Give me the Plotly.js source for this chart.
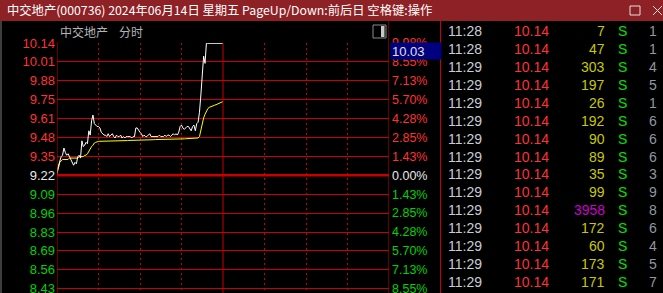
<!DOCTYPE html>
<html><head><meta charset="utf-8">
<script src="https://cdn.plot.ly/plotly-3.0.1.min.js"></script>
<style>html,body{margin:0;padding:0;background:#000;overflow:hidden;}#chart{width:663px;height:293px;}</style>
</head><body><div id="chart"></div>
<script>
// ---------- data ----------
const stockName = "中交地产";
const titleText = "中交地产(000736) 2024年06月14日 星期五 PageUp/Down:前后日 空格键:操作";
const preClose = 9.22;
const limitUp = 10.142;
const cursorPrice = "10.03";
const leftLabels = ["10.14","10.01","9.88","9.75","9.61","9.48","9.35","9.22","9.09","8.96","8.83","8.69","8.56","8.43"];
const rightLabels = ["9.98%","8.55%","7.13%","5.70%","4.28%","2.85%","1.43%","0.00%","1.43%","2.85%","4.28%","5.70%","7.13%","8.55%"];
// per-minute price from 9:30 (minute 0) to 11:30 (minute 120)
const price = [
 9.25,9.29,9.31,9.35,9.36,9.41,9.38,9.36,9.37,9.35,
 9.33,9.30,9.29,9.31,9.30,9.35,9.36,9.34,9.46,9.42,
 9.43,9.45,9.44,9.53,9.50,9.60,9.64,9.58,9.57,9.56,
 9.56,9.55,9.52,9.51,9.50,9.50,9.49,9.51,9.49,9.50,
 9.51,9.49,9.48,9.50,9.49,9.49,9.50,9.48,9.49,9.48,
 9.49,9.49,9.49,9.49,9.48,9.49,9.49,9.55,9.55,9.53,
 9.52,9.51,9.49,9.50,9.49,9.49,9.50,9.51,9.49,9.49,
 9.49,9.49,9.49,9.49,9.50,9.49,9.49,9.49,9.50,9.49,
 9.50,9.50,9.49,9.50,9.51,9.50,9.51,9.50,9.52,9.56,
 9.57,9.55,9.54,9.55,9.56,9.56,9.54,9.53,9.56,9.57,
 9.53,9.58,9.59,9.66,9.78,9.96,10.05,10.00,10.14,10.14,
 10.14,10.14,10.14,10.14,10.14,10.14,10.14,10.14,10.14,10.14,10.14];
const avgPrice = [
 9.23,9.27,9.31,9.32,9.33,9.33,9.33,9.33,9.33,9.34,
 9.34,9.34,9.34,9.34,9.34,9.34,9.35,9.35,9.35,9.35,
 9.36,9.36,9.37,9.39,9.40,9.42,9.43,9.445,9.45,9.455,
 9.456,9.457,9.457,9.458,9.458,9.458,9.459,9.459,9.459,9.460,
 9.460,9.460,9.460,9.461,9.461,9.461,9.461,9.461,9.462,9.462,
 9.462,9.462,9.463,9.463,9.464,9.465,9.466,9.467,9.468,9.468,
 9.468,9.468,9.468,9.468,9.468,9.468,9.468,9.468,9.468,9.468,
 9.468,9.469,9.469,9.469,9.470,9.470,9.470,9.470,9.471,9.471,
 9.471,9.471,9.472,9.472,9.472,9.472,9.473,9.473,9.473,9.474,
 9.474,9.474,9.474,9.475,9.475,9.475,9.475,9.476,9.476,9.476,
 9.477,9.478,9.480,9.49,9.53,9.59,9.62,9.645,9.67,9.684,
 9.693,9.698,9.701,9.705,9.709,9.712,9.716,9.72,9.726,9.73,9.734];
// tick table
const tTimes = ["11:28","11:28","11:29","11:29","11:29","11:29","11:29","11:29","11:29","11:29","11:29","11:29","11:29","11:29","11:29"];
const tPrices = ["10.14","10.14","10.14","10.14","10.14","10.14","10.14","10.14","10.14","10.14","10.14","10.14","10.14","10.14","10.14"];
const tVols = [7,47,303,197,26,192,90,89,35,99,3958,172,60,173,171];
const tFlags = ["S","S","S","S","S","S","S","S","S","S","S","S","S","S","S"];
const tCounts = [1,1,4,5,1,6,6,6,3,9,8,6,4,5,7];

// ---------- style / layout constants ----------
const W = 663, H = 293;
const fx = x => x / W, fy = y => 1 - y / H;
const RED = "#FF3232", GREEN = "#00D200", WHITE = "#E8E8E8", GRID = "#C80000";
const plotL = 57, plotR = 389, plotT = 43, plotB = 293;
const step = (limitUp - preClose) / 7;
const pxPerPrice = 18.9 / step;
const yBottom = limitUp - (plotB - plotT) / pxPerPrice;
const tickVals = leftLabels.map((_, i) => limitUp - i * step);
const colorFor = i => i < 7 ? RED : (i === 7 ? WHITE : GREEN);
const leftText = leftLabels.map((t, i) => `<span style="color:${colorFor(i)}">${t}</span>`);
const rightText = rightLabels.map((t, i) => `<span style="color:${colorFor(i)}">${t}</span>`);
const rowTop = 31, rowH = 17.93;
const tableFont = "Liberation Sans, Arial, sans-serif";
const cjk = "Noto Sans CJK SC, sans-serif";
// column anchors (pixel positions on the table axis) and alignment
const columns = [
  {values: tTimes, x: 447, anchor: "left", color: () => "#C8CCD4"},
  {values: tPrices, x: 513, anchor: "left", color: () => RED},
  {values: tVols.map(String), x: 606, anchor: "right", color: i => tVols[i] >= 1000 ? "#CC00CC" : "#C8C800"},
  {values: tFlags, x: 617, anchor: "left", color: () => "#00E000"},
  {values: tCounts.map(String), x: 658, anchor: "right", color: () => "#9098A0"}
];

const minutes = price.map((_, i) => i);

const traces = [
  {x: minutes, y: avgPrice, type: "scatter", mode: "lines", line: {color: "#FFFF00", width: 1}, xaxis: "x", yaxis: "y"},
  {x: minutes, y: price, type: "scatter", mode: "lines", line: {color: "#FFFFFF", width: 1}, xaxis: "x", yaxis: "y"},
  {x: [0], y: [preClose], type: "scatter", mode: "markers", marker: {opacity: 0}, xaxis: "x", yaxis: "y2"},
  {x: [447], y: [rowTop], type: "scatter", mode: "markers", marker: {opacity: 0}, xaxis: "x3", yaxis: "y3"}
];

const line = (x0, y0, x1, y1, color, width) => ({type: "line", xref: "paper", yref: "paper",
  x0: fx(x0), y0: fy(y0), x1: fx(x1), y1: fy(y1), line: {color: color, width: width}, layer: "above"});

const shapes = [
  {type: "rect", xref: "paper", yref: "paper", x0: 0, x1: 1, y0: fy(21), y1: 1, fillcolor: "#8E2125", line: {width: 0}, layer: "below"},
  {type: "rect", xref: "paper", yref: "paper", x0: fx(630), x1: fx(640), y0: fy(15), y1: fy(6), line: {color: "#E0E0E0", width: 1}},
  line(653, 6, 662, 15, "#E0E0E0", 1),
  line(653, 15, 662, 6, "#E0E0E0", 1),
  line(1, 21, 1, 293, "#7A7A7A", 1),
  line(440.5, 21, 440.5, 293, GRID, 1),
  {type: "line", xref: "x", yref: "paper", x0: 240, x1: 240, y0: 0, y1: fy(21), line: {color: GRID, width: 1}},
  {type: "line", xref: "x", yref: "paper", x0: 0, x1: 0, y0: 0, y1: fy(42), line: {color: GRID, width: 1}},
  {type: "line", xref: "x", yref: "paper", x0: 120, x1: 120, y0: 0, y1: fy(43), line: {color: GRID, width: 1}},
  {type: "line", xref: "x", yref: "y", x0: 0, x1: 240, y0: preClose, y1: preClose, line: {color: GRID, width: 2.5}, layer: "below"},
  {type: "rect", xref: "paper", yref: "paper", x0: fx(373), x1: fx(386), y0: fy(38), y1: fy(25), line: {color: "#8A8A8A", width: 1}},
  {type: "rect", xref: "paper", yref: "paper", x0: fx(381), x1: fx(384.5), y0: fy(37), y1: fy(26), fillcolor: "#C8C8C8", line: {width: 0}}
];

const annotations = [
  {xref: "paper", yref: "paper", x: fx(5), y: fy(10.5), xanchor: "left", yanchor: "middle", showarrow: false,
   text: titleText, font: {family: cjk, size: 12.3, color: "#FFFFFF"}},
  {xref: "paper", yref: "paper", x: fx(58), y: fy(31), xanchor: "left", yanchor: "middle", showarrow: false,
   text: stockName, font: {family: cjk, size: 12, color: "#B4B4B4"}},
  {xref: "paper", yref: "paper", x: fx(117), y: fy(31), xanchor: "left", yanchor: "middle", showarrow: false,
   text: "分时", font: {family: cjk, size: 12, color: "#B4B4B4"}},
  {xref: "paper", yref: "paper", x: fx(390), y: fy(42), xanchor: "left", yanchor: "top", showarrow: false,
   text: cursorPrice, align: "left", width: 48, height: 14, borderpad: 1, bgcolor: "#000080",
   font: {family: tableFont, size: 13, color: "#E0E0E0"}}
];
// table cells, placed through the table axes (x3 / y3)
columns.forEach(col => {
  col.values.forEach((v, i) => {
    annotations.push({xref: "x3", yref: "y3", x: col.x, y: rowTop + i * rowH, xanchor: col.anchor, yanchor: "middle",
      showarrow: false, text: v, borderpad: 0, font: {family: tableFont, size: 14, color: col.color(i)}});
  });
});

const layout = {
  width: W, height: H, margin: {l: 0, r: 0, t: 0, b: 0},
  paper_bgcolor: "#000", plot_bgcolor: "rgba(0,0,0,0)", showlegend: false, hovermode: false,
  xaxis: {domain: [fx(plotL), fx(plotR)], range: [0, 240], tickvals: [30, 60, 90, 150, 180, 210],
    showticklabels: false, ticks: "", showgrid: true, gridcolor: GRID, griddash: "2px,3px", gridwidth: 1, zeroline: false, showline: false},
  yaxis: {domain: [0, fy(plotT)], range: [yBottom, limitUp], tickvals: tickVals, ticktext: leftText, ticks: "",
    ticklabeloverflow: "allow", ticklabelstandoff: 1,
    tickfont: {family: tableFont, size: 13}, showgrid: true, gridcolor: GRID, gridwidth: 1, zeroline: false, showline: false},
  yaxis2: {overlaying: "y", side: "right", anchor: "x", range: [yBottom, limitUp], tickvals: tickVals, ticktext: rightText,
    ticklabeloverflow: "allow", ticklabelstandoff: 2,
    ticks: "", tickfont: {family: tableFont, size: 12.5}, showgrid: false, zeroline: false, showline: false},
  xaxis3: {domain: [fx(441), 1], range: [441, W], visible: false, anchor: "y3"},
  yaxis3: {domain: [0, fy(21)], range: [H, 21], visible: false, anchor: "x3"},
  shapes: shapes, annotations: annotations
};

Plotly.newPlot("chart", traces, layout, {displayModeBar: false, staticPlot: true});
</script></body></html>
